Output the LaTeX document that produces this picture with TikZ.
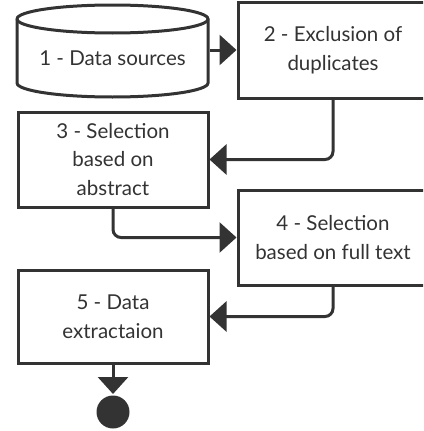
\documentclass[tikz,border=0pt]{standalone}
\usepackage{fontspec}
\setmainfont{Lato}
\usetikzlibrary{arrows.meta}
\definecolor{ink}{HTML}{333333}
\begin{document}
\begin{tikzpicture}[x=1pt,y=-1pt,line width=3pt,
  box/.style={draw=ink,fill=white,minimum width=190pt,align=center,text=ink,inner sep=0pt,font=\fontsize{20.5}{28.5}\selectfont},
  flow/.style={draw=ink,rounded corners=8pt,-{Triangle[length=17pt,width=30pt,sharp]}}]
\useasboundingbox (0,0) rectangle (423,431);
\clip (0,0) rectangle (423,431);
% cylinder
\draw[ink,fill=white] (17,19) -- (17,83) arc[start angle=180,end angle=360,x radius=95.5,y radius=-14] -- (208,19) arc[start angle=0,end angle=180,x radius=95.5,y radius=-14] -- cycle;
\draw[ink] (17,19) arc[start angle=180,end angle=360,x radius=95.5,y radius=-14];
\node[box,draw=none,fill=none,minimum width=191pt,minimum height=50pt] (ds) at (112.5,58) {1 - Data sources};
\node[box,minimum height=96pt] (b2) at (333,50) {2 - Exclusion of\\duplicates};
\node[box,minimum height=95pt] (b3) at (113,159.5) {3 - Selection\\based on\\abstract};
\node[box,minimum height=95pt] (b4) at (333,237.5) {4 - Selection\\based on full text};
\node[box,minimum height=93pt] (b5) at (113,316.5) {5 - Data\\extractaion};
\node[circle,fill=ink,minimum size=33pt,inner sep=0pt] (end) at (113,412) {};
\draw[flow] (ds.east |- b2.west) -- (b2.west);
\draw[flow] (b2.south) |- (b3.east);
\draw[flow] (b3.south) |- (b4.west);
\draw[flow] (b4.south) |- (b5.east);
\draw[flow] (b5.south) -- (end.north);
\end{tikzpicture}
\end{document}
